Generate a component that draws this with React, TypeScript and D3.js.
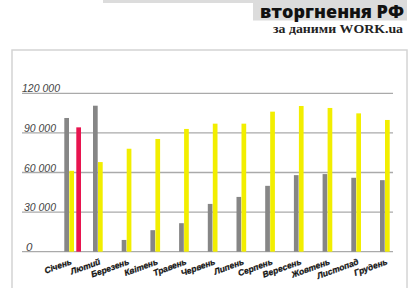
import React from "react";
import * as d3 from "d3";

const months = ["Січень","Лютий","Березень","Квітень","Травень","Червень","Липень","Серпень","Вересень","Жовтень","Листопад","Грудень"];
const grayValues = [101300,110600,8900,16300,21600,36200,41500,49900,58000,58800,56000,54200];
const yellowValues = [61300,67900,78000,85400,93000,97000,97000,106100,110400,108900,104800,99800];
const redValues = [94200];
const yTicks = [0, 30000, 60000, 90000, 120000];

const W = 420, H = 288;
const BW = 4.7;

export default function App() {
  const x = d3.scalePoint<string>().domain(months).range([64.3, 380]);
  const y = d3.scaleLinear().domain([0, 120000]).range([251.7, 93.3]);
  const fmt = (v: number) => v === 0 ? "0" : d3.format(",")(v).replace(/,/g, " ");

  return (
    <svg width={W} height={H} style={{ position: "absolute", left: 0, top: 0, background: "#fff" }}>
      <rect x={0} y={0} width={W} height={H} fill="#fff" />
      {/* header remnants */}
      <rect x={103} y={0} width={154} height={3} fill="#dcdcdc" />
      <rect x={253} y={0} width={154} height={20.5} fill="#dcdcdc" />
      <text x={260} y={17.5} fontFamily="'Open Sans', sans-serif" fontWeight={800} fontSize={18} fill="#111"
        textLength={144} lengthAdjust="spacingAndGlyphs">вторгнення РФ</text>
      <text x={403} y={33} textAnchor="end" fontFamily="'Liberation Serif', serif" fontWeight={700} fontSize={13} fill="#222"
        textLength={130} lengthAdjust="spacingAndGlyphs">за даними WORK.ua</text>
      {/* panel */}
      <rect x={12} y={50} width={395} height={260} fill="none" stroke="#d4d4d4" strokeWidth={1.5} />
      {/* grid */}
      {yTicks.map((t) => (
        <g key={t}>
          <line x1={22} x2={393} y1={y(t)} y2={y(t)} stroke="#aaaaaa" strokeWidth={1.3} />
          <text x={t === 0 ? 26 : t === 120000 ? 22 : 24} y={y(t) - 1} fontFamily="'Liberation Sans', Arial, sans-serif" fontStyle="italic"
            fontSize={11.5} fill="#444" textLength={t === 0 ? undefined : t === 120000 ? 38 : 32} lengthAdjust="spacingAndGlyphs">{fmt(t)}</text>
        </g>
      ))}
      {/* bars */}
      {months.map((m, i) => {
        const gx = x(m)!;
        return (
          <g key={m}>
            <rect x={gx} y={y(grayValues[i])} width={BW} height={y(0) - y(grayValues[i])} fill="#868686" />
            <rect x={gx + 5} y={y(yellowValues[i])} width={BW} height={y(0) - y(yellowValues[i])} fill="#f2ee00" />
            {redValues[i] !== undefined && (
              <rect x={gx + 12} y={y(redValues[i])} width={BW} height={y(0) - y(redValues[i])} fill="#e8144f" />
            )}
            <text transform={`translate(${gx + 8},${264}) rotate(-20)`} textAnchor="end"
              fontFamily="'Liberation Sans', Arial, sans-serif" fontWeight={700} fontStyle="italic" fontSize={8.5} fill="#111"
              stroke="#111" strokeWidth={0.25}>{m}</text>
          </g>
        );
      })}
    </svg>
  );
}
